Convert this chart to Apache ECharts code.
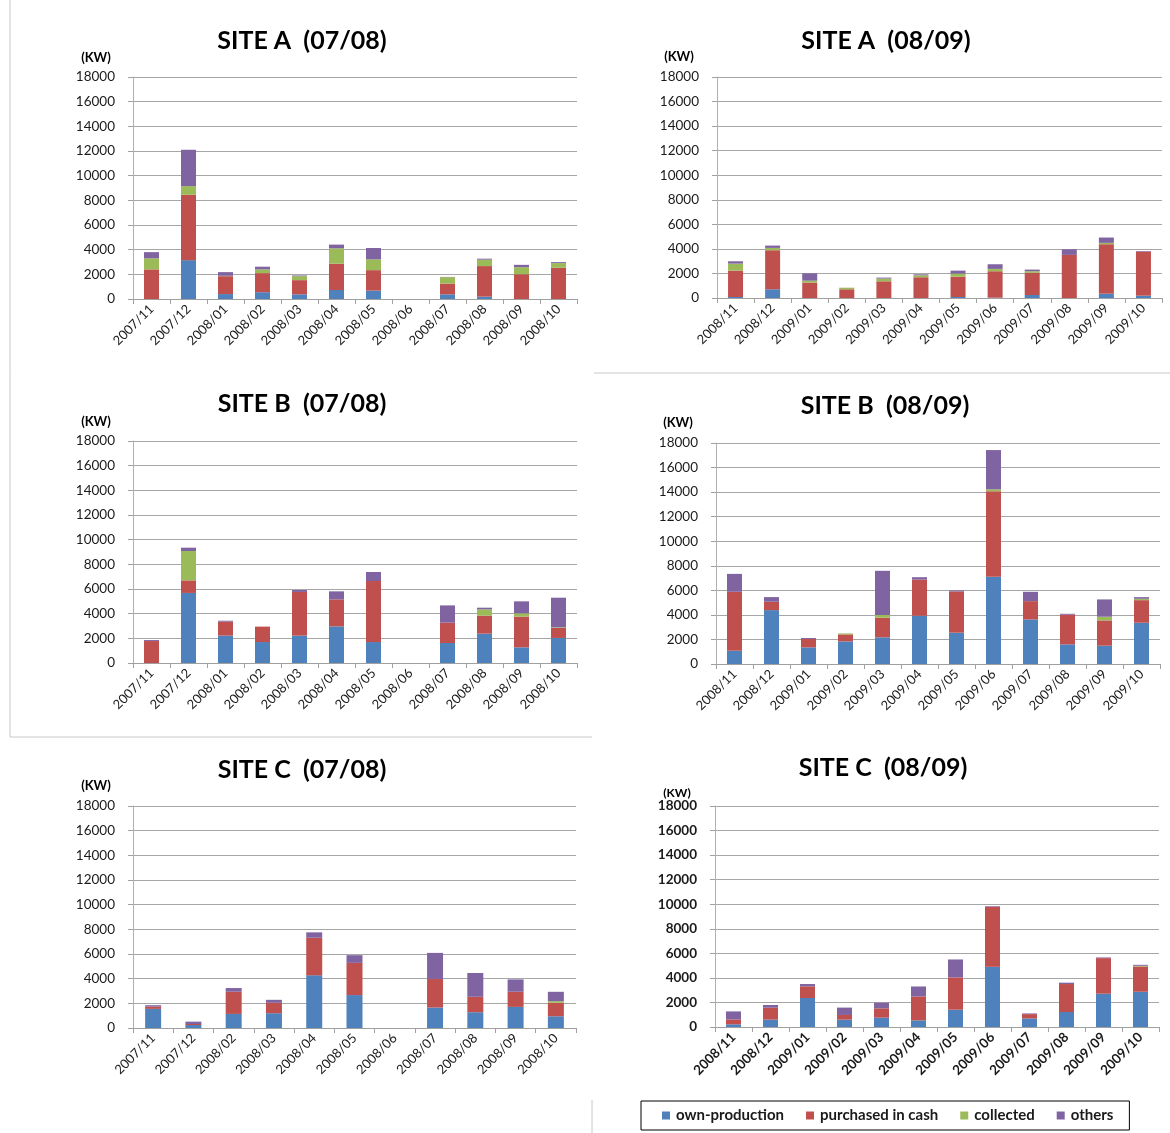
<!DOCTYPE html>
<html>
<head>
<meta charset="utf-8">
<title>Power supply by source, sites A–C</title>
<script src="https://cdn.jsdelivr.net/npm/echarts@6/dist/echarts.min.js"></script>
<style>
  html, body { margin: 0; padding: 0; background: #fff; }
  #chart { width: 1170px; height: 1133px; }
</style>
</head>
<body>
<div id="chart"></div>
<script>
// Month categories
const months0708 = ['2007/11','2007/12','2008/01','2008/02','2008/03','2008/04','2008/05','2008/06','2008/07','2008/08','2008/09','2008/10'];
const months0708C = ['2007/11','2007/12','2008/02','2008/03','2008/04','2008/05','2008/06','2008/07','2008/08','2008/09','2008/10'];
const months0809 = ['2008/11','2008/12','2009/01','2009/02','2009/03','2009/04','2009/05','2009/06','2009/07','2009/08','2009/09','2009/10'];

const sourceNames = ['own-production', 'purchased in cash', 'collected', 'others'];
const yTicks = [0, 2000, 4000, 6000, 8000, 10000, 12000, 14000, 16000, 18000];

// SITE A (07/08), kW
const siteA0708Own       = [0, 3150, 400, 550, 380, 730, 680, 0, 380, 190, 0, 0];
const siteA0708Purchased = [2400, 5300, 1450, 1550, 1150, 2130, 1660, 0, 870, 2480, 2010, 2530];
const siteA0708Collected = [900, 700, 30, 300, 320, 1250, 870, 0, 520, 520, 570, 380];
const siteA0708Others    = [500, 2950, 300, 220, 60, 300, 925, 0, 20, 80, 190, 80];

// SITE A (08/09)
const siteA0809Own       = [80, 710, 0, 0, 0, 0, 80, 30, 245, 0, 350, 190];
const siteA0809Purchased = [2150, 3180, 1250, 710, 1360, 1690, 1660, 2150, 1800, 3510, 4030, 3590];
const siteA0809Collected = [570, 190, 160, 130, 220, 160, 245, 190, 135, 0, 110, 0];
const siteA0809Others    = [190, 190, 600, 0, 80, 80, 245, 380, 135, 460, 435, 50];

// SITE B (07/08)
const siteB0708Own       = [0, 5680, 2220, 1700, 2220, 2970, 1700, 0, 1620, 2380, 1270, 2030];
const siteB0708Purchased = [1780, 1020, 1130, 1250, 3540, 2190, 4950, 0, 1650, 1460, 2490, 810];
const siteB0708Collected = [0, 2380, 0, 0, 0, 0, 0, 0, 0, 510, 270, 55];
const siteB0708Others    = [80, 270, 80, 0, 160, 650, 730, 0, 1400, 135, 970, 2400];

// SITE B (08/09)
const siteB0809Own       = [1080, 4390, 1355, 1840, 2170, 3930, 2550, 7100, 3630, 1600, 1490, 3360];
const siteB0809Purchased = [4800, 680, 680, 570, 1600, 2950, 3360, 6965, 1490, 2410, 2060, 1840];
const siteB0809Collected = [0, 0, 0, 80, 220, 0, 0, 160, 0, 0, 300, 110];
const siteB0809Others    = [1460, 380, 80, 0, 3600, 190, 80, 3200, 760, 80, 1410, 135];

// SITE C (07/08) – no 2008/01 entry
const siteC0708Own       = [1550, 245, 1140, 1200, 4270, 2670, 0, 1660, 1280, 1710, 950];
const siteC0708Purchased = [190, 80, 1800, 840, 3050, 2610, 0, 2310, 1250, 1230, 1090];
const siteC0708Collected = [0, 0, 0, 0, 0, 0, 0, 0, 0, 0, 135];
const siteC0708Others    = [110, 190, 300, 245, 435, 625, 0, 2120, 1930, 1000, 760];

// SITE C (08/09)
const siteC0809Own       = [220, 600, 2360, 600, 760, 540, 1410, 4900, 700, 1220, 2710, 2870];
const siteC0809Purchased = [400, 970, 950, 380, 760, 1950, 2630, 4880, 350, 2280, 2900, 2060];
const siteC0809Collected = [0, 0, 0, 0, 0, 0, 0, 0, 0, 0, 0, 55];
const siteC0809Others    = [650, 220, 190, 600, 460, 810, 1460, 55, 55, 110, 55, 80];

const sourceColors = ['#4F81BD', '#C0504D', '#9BBB59', '#8064A2'];
const FONT = 'Lato, "Noto Sans", sans-serif';

// Panel layout: plot rectangle, title and unit label placement
const panels = [
  { title: 'SITE A  (07/08)', months: months0708,  series: [siteA0708Own, siteA0708Purchased, siteA0708Collected, siteA0708Others],
    rect: [133, 77, 444, 222], titleAt: [302, 41], unitAt: [96, 58], bold: false },
  { title: 'SITE A  (08/09)', months: months0809,  series: [siteA0809Own, siteA0809Purchased, siteA0809Collected, siteA0809Others],
    rect: [717, 77, 445, 221], titleAt: [886, 41], unitAt: [679, 57], bold: false },
  { title: 'SITE B  (07/08)', months: months0708,  series: [siteB0708Own, siteB0708Purchased, siteB0708Collected, siteB0708Others],
    rect: [133, 441, 444, 222], titleAt: [302, 404], unitAt: [96, 422], bold: false },
  { title: 'SITE B  (08/09)', months: months0809,  series: [siteB0809Own, siteB0809Purchased, siteB0809Collected, siteB0809Others],
    rect: [716, 443, 444, 221], titleAt: [885, 406], unitAt: [678, 423], bold: false },
  { title: 'SITE C  (07/08)', months: months0708C, series: [siteC0708Own, siteC0708Purchased, siteC0708Collected, siteC0708Others],
    rect: [133, 806, 443, 222], titleAt: [302, 770], unitAt: [96, 786], bold: false },
  { title: 'SITE C  (08/09)', months: months0809,  series: [siteC0809Own, siteC0809Purchased, siteC0809Collected, siteC0809Others],
    rect: [715, 806, 444, 221], titleAt: [883, 768], unitAt: [677, 793], bold: true }
];

const grid = [], xAxis = [], yAxis = [], series = [], graphic = [];

panels.forEach((p, i) => {
  const [l, t, w, h] = p.rect;
  grid.push({ left: l, top: t, width: w, height: h, containLabel: false });
  xAxis.push({
    type: 'category', gridIndex: i, data: p.months, boundaryGap: true,
    axisLine: { show: true, lineStyle: { color: '#a0a0a0', width: 1 } },
    axisTick: { show: true, length: 5, lineStyle: { color: '#a0a0a0' } },
    axisLabel: { rotate: 45, interval: 0, margin: 8, color: '#1a1a1a',
      fontFamily: FONT, fontSize: p.bold ? 13.5 : 13, fontWeight: p.bold ? 'bold' : 'normal' },
    splitLine: { show: false }
  });
  yAxis.push({
    type: 'value', gridIndex: i, min: yTicks[0], max: yTicks[yTicks.length - 1],
    interval: yTicks[1] - yTicks[0],
    axisLine: { show: true, lineStyle: { color: '#b0b0b0', width: 1 } },
    axisTick: { show: true, length: 5, lineStyle: { color: '#a0a0a0' } },
    axisLabel: { margin: 18, color: '#1a1a1a', fontFamily: FONT, fontSize: 13.5,
      fontWeight: p.bold ? 'bold' : 'normal', formatter: v => String(v) },
    splitLine: { show: true, lineStyle: { color: '#a6a6a6', width: 1 } }
  });
  p.series.forEach((vals, k) => {
    series.push({
      type: 'bar', name: sourceNames[k], xAxisIndex: i, yAxisIndex: i,
      stack: 'panel' + i, data: vals, barWidth: p.months.length === 11 ? 16 : 15,
      itemStyle: { color: sourceColors[k] }, emphasis: { disabled: true }
    });
  });
  graphic.push({
    type: 'text', x: p.titleAt[0], y: p.titleAt[1], silent: true,
    style: { text: p.title, fill: '#000', font: 'bold 25px ' + FONT,
      align: 'center', verticalAlign: 'middle', textAlign: 'center', textVerticalAlign: 'middle' }
  });
  graphic.push({
    type: 'text', x: p.unitAt[0], y: p.unitAt[1], silent: true,
    style: { text: '(KW)', fill: '#000', font: 'bold ' + (p.bold ? 12 : 13) + 'px ' + FONT,
      align: 'center', verticalAlign: 'middle', textAlign: 'center', textVerticalAlign: 'middle' }
  });
});

// Thin separators between the panels
const frameLines = [
  [10, 0, 10, 737],
  [10, 737, 592, 737],
  [594, 373, 1170, 373],
  [592, 1100, 592, 1133]
];
frameLines.forEach(([x1, y1, x2, y2]) => {
  graphic.push({ type: 'line', silent: true, shape: { x1, y1, x2, y2 },
    style: { stroke: '#c8c8c8', lineWidth: 1 } });
});

const chart = echarts.init(document.getElementById('chart'), null, { renderer: 'canvas' });
chart.setOption({
  backgroundColor: '#ffffff',
  animation: false,
  grid, xAxis, yAxis, series, graphic,
  legend: {
    data: sourceNames, left: 641, top: 1101, orient: 'horizontal',
    icon: 'rect', itemWidth: 8, itemHeight: 8, itemGap: 22,
    padding: [7, 16, 7, 21], borderColor: '#000', borderWidth: 1,
    textStyle: { fontFamily: FONT, fontSize: 15, fontWeight: 'bold', color: '#1a1a1a', padding: [0, 0, 0, 1] },
    selectedMode: false
  }
});
</script>
</body>
</html>
